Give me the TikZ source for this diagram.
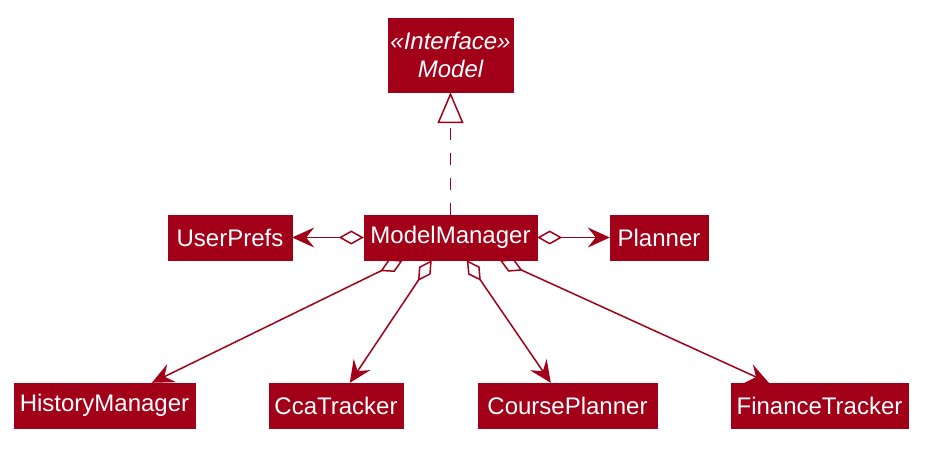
\documentclass[tikz,border=0pt]{standalone}
\usepackage{fontspec}
\setmainfont{Liberation Sans}
\usetikzlibrary{arrows.meta}
\definecolor{umlred}{HTML}{A10018}
\begin{document}
\begin{tikzpicture}[x=1pt,y=-1pt,
  cls/.style={fill=umlred,draw=umlred,text=white,inner sep=0pt,
    minimum height=45pt,font=\fontsize{24}{28}\selectfont},
  link/.style={draw=umlred,line width=1.5pt},
  aggr/.style={link,{Diamond[open,length=25pt,width=14pt]}-{Stealth[length=22pt,width=20pt,inset=8pt]}},
  realize/.style={link,dash pattern=on 12pt off 13pt,-{Triangle[open,length=31pt,width=26pt]}}]
\useasboundingbox (0,0) rectangle (929,449);
\node[cls,minimum width=125pt,minimum height=74pt,align=center,font=\fontsize{24}{28}\selectfont\itshape] (model) at (450.5,55) {«Interface»\\Model};
\node[cls,minimum width=173pt] (mm) at (450.5,237.5) {ModelManager};
\node[cls,minimum width=124pt] (up) at (230,237.5) {UserPrefs};
\node[cls,minimum width=98pt] (pl) at (659,237.5) {Planner};
\node[cls,minimum width=181pt] (hm) at (104.5,405.5) {HistoryManager};
\node[cls,minimum width=134pt] (cca) at (336,405.5) {CcaTracker};
\node[cls,minimum width=179pt] (cp) at (567.5,405.5) {CoursePlanner};
\node[cls,minimum width=177pt] (ft) at (819.5,405.5) {FinanceTracker};
\draw[realize] (mm.north) -- (model.south);
\draw[aggr] (mm.west) -- (up.east);
\draw[aggr] (mm.east) -- (pl.west);
\draw[aggr] ([xshift=39pt]mm.south west) -- ([xshift=138pt]hm.north west);
\draw[aggr] ([xshift=68pt]mm.south west) -- ([xshift=81pt]cca.north west);
\draw[aggr] ([xshift=103pt]mm.south west) -- ([xshift=73pt]cp.north west);
\draw[aggr] ([xshift=136pt]mm.south west) -- ([xshift=38pt]ft.north west);
\end{tikzpicture}
\end{document}
